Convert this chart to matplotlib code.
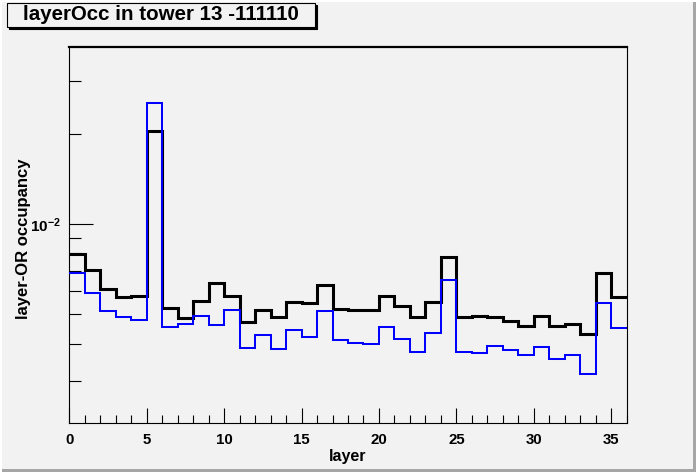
import matplotlib
matplotlib.use("Agg")
import matplotlib.pyplot as plt
import numpy as np
from matplotlib.patches import Rectangle
from matplotlib.ticker import LogLocator, FuncFormatter, NullFormatter, MultipleLocator

plt.rcParams['font.family'] = ['Liberation Sans', 'DejaVu Sans']
plt.rcParams['mathtext.fontset'] = 'custom'
plt.rcParams['mathtext.rm'] = 'Liberation Sans'
plt.rcParams['mathtext.bf'] = 'Liberation Sans:bold'
plt.rcParams['mathtext.default'] = 'bf'

title = "layerOcc in tower 13 -111110"
x_label = "layer"
y_label = "layer-OR occupancy"

layers = list(range(37))  # bin edges 0..36

occ_black = [7.94e-3, 7.06e-3, 6.06e-3, 5.71e-3, 5.74e-3, 2.05e-2, 5.24e-3, 4.85e-3,
             5.54e-3, 6.39e-3, 5.74e-3, 4.71e-3, 5.16e-3, 4.90e-3, 5.52e-3, 5.47e-3,
             6.26e-3, 5.21e-3, 5.17e-3, 5.17e-3, 5.75e-3, 5.33e-3, 4.90e-3, 5.52e-3,
             7.76e-3, 4.89e-3, 4.96e-3, 4.92e-3, 4.75e-3, 4.59e-3, 4.96e-3, 4.59e-3,
             4.64e-3, 4.29e-3, 6.85e-3, 5.70e-3]

occ_blue = [6.88e-3, 5.90e-3, 5.14e-3, 4.91e-3, 4.78e-3, 2.53e-2, 4.53e-3, 4.64e-3,
            4.93e-3, 4.61e-3, 5.17e-3, 3.88e-3, 4.27e-3, 3.85e-3, 4.43e-3, 4.21e-3,
            5.15e-3, 4.10e-3, 4.03e-3, 3.99e-3, 4.54e-3, 4.14e-3, 3.76e-3, 4.33e-3,
            6.51e-3, 3.75e-3, 3.72e-3, 3.92e-3, 3.81e-3, 3.67e-3, 3.89e-3, 3.56e-3,
            3.66e-3, 3.17e-3, 5.47e-3, 4.50e-3]

W, H = 696, 472
BG = '#f2f2f2'
fig = plt.figure(figsize=(W / 100, H / 100), dpi=100, facecolor=BG)

def fx(x):
    return x / W

def fy(y):
    return 1 - y / H

L, R, T, B = 69.3, 626.7, 46.7, 423.3
ax = fig.add_axes([fx(L), fy(B), fx(R) - fx(L), fy(T) - fy(B)])
ax.set_facecolor(BG)

ax.stairs(occ_black, layers, baseline=None, color='black', linewidth=2.2,
          joinstyle='miter', capstyle='butt', zorder=3)
ax.stairs(occ_blue, layers, baseline=None, color='#0000ff', linewidth=1.45,
          joinstyle='miter', capstyle='butt', zorder=4)

ax.set_yscale('log')
ax.set_xlim(0, 36)
ax.set_ylim(2.17e-3, 3.9e-2)

ax.xaxis.set_major_locator(MultipleLocator(5))
ax.xaxis.set_minor_locator(MultipleLocator(1))
ax.yaxis.set_major_locator(LogLocator(base=10, subs=(1.0,)))
ax.yaxis.set_minor_locator(LogLocator(base=10, subs=np.arange(2, 10)))
ax.yaxis.set_minor_formatter(NullFormatter())
ax.yaxis.set_major_formatter(FuncFormatter(
    lambda v, p: r'$\mathbf{10^{%d}}$' % int(round(np.log10(v)))))

ax.tick_params(axis='x', which='major', direction='in', length=11, width=0.8,
               labelsize=10.8, pad=7, top=False)
ax.tick_params(axis='x', which='minor', direction='in', length=5.5, width=0.8, top=False)
ax.tick_params(axis='y', which='major', direction='in', length=17, width=0.8,
               labelsize=11, pad=6, right=False)
ax.tick_params(axis='y', which='minor', direction='in', length=8.5, width=0.8, right=False)
for lab in ax.get_xticklabels():
    lab.set_fontweight('bold')

for s in ['left', 'right', 'bottom']:
    ax.spines[s].set_linewidth(0.8)
ax.spines['top'].set_linewidth(1.6)

ax.set_xlabel(x_label, fontsize=11.5, fontweight='bold')
ax.set_ylabel(y_label, fontsize=12, fontweight='bold')
ax.xaxis.set_label_coords(0.5, (B - 449) / (B - T))
ax.yaxis.set_label_coords((31 - L) / (R - L), (B - 239) / (B - T))

# title pave with shadow
bx0, by0, bx1, by1 = 7, 3, 315, 27
fig.add_artist(Rectangle((fx(bx0 + 2), fy(by1 + 2)), fx(bx1 - bx0), fy(by0) - fy(by1),
                         transform=fig.transFigure, facecolor='black', edgecolor='black',
                         linewidth=0.8))
fig.add_artist(Rectangle((fx(bx0), fy(by1)), fx(bx1 - bx0), fy(by0) - fy(by1),
                         transform=fig.transFigure, facecolor=BG, edgecolor='black',
                         linewidth=0.8))
fig.text(fx((bx0 + bx1) / 2), fy((by0 + by1) / 2), title, ha='center', va='center',
         fontsize=14.8, fontweight='bold')

# canvas border
fig.add_artist(Rectangle((fx(W - 2.7), 0), fx(2.7), 1, transform=fig.transFigure,
                         facecolor='#a6a6a6', edgecolor='none'))
fig.add_artist(Rectangle((0, 0), 1, 2.7 / H, transform=fig.transFigure,
                         facecolor='#a6a6a6', edgecolor='none'))
fig.add_artist(Rectangle((0, fy(2)), 1, 2 / H, transform=fig.transFigure,
                         facecolor='white', edgecolor='none'))
fig.add_artist(Rectangle((0, 0), fx(2), 1, transform=fig.transFigure,
                         facecolor='white', edgecolor='none'))

fig.savefig('out.png', dpi=100, facecolor=BG)
